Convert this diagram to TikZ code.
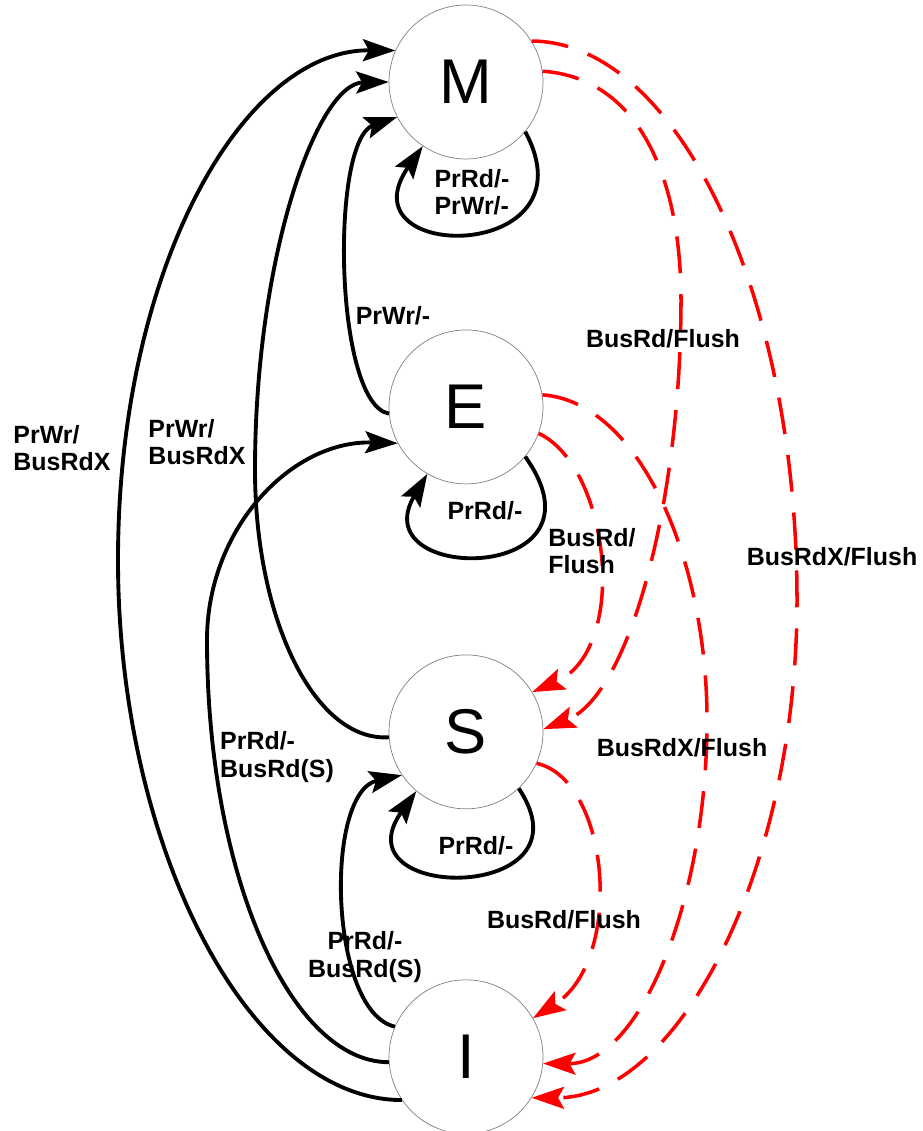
\documentclass[tikz,border=0pt]{standalone}
\usepackage{fontspec}
\setmainfont{Liberation Sans}
\usetikzlibrary{arrows.meta, positioning}

\begin{document}
\begin{tikzpicture}[x=0.02cm, y=-0.02cm, node distance=6.5cm, >={Stealth[length=6.5mm, width=4.4mm, inset=1.2mm]}]
	\tikzstyle{state} = [draw=gray, thin, circle, minimum size=3.08cm, inner sep=0pt, font=\fontsize{36}{40}\selectfont]
	\tikzstyle{lbl} = [inner sep=0pt, align=left, font=\fontsize{14.2}{15.5}\selectfont\bfseries]
	\tikzstyle{proc} = [->, black, line width=2.2pt]
	\tikzstyle{bus} = [->, red, line width=2pt, dash pattern=on 0.74cm off 0.42cm]

	\useasboundingbox (0,0) rectangle (922,1131);

	\path
		node[state] (M) at (466,82) {M}
		node[state, below of=M] (E) {E}
		node[state, below of=E] (S) {S}
		node[state, below of=S] (I) {I}
	;

	% processor side
	\draw[proc] (I.214) .. controls (248,1100) and (118,846) .. (118,560)
		.. controls (118,270) and (242,49) .. (M.156);
	\draw[proc] (S.184) .. controls (315,742) and (255,620) .. (255,470)
		.. controls (255,257) and (317,83) .. (M.180);
	\draw[proc] (E.185) .. controls +(-55,-10) and +(-67,23) .. (M.207);
	\draw[proc] (I.184) .. controls (290,1062) and (207,874) .. (207,640)
		.. controls (207,529) and (291,440) .. (E.208);
	\draw[proc] (I.157) .. controls +(-66,-15) and +(-78,17) .. (S.214);

	\draw[proc] (M.-40) .. controls +(71,132) and +(-82,118) .. (M.236);
	\draw[proc] (E.-40) .. controls +(91,128) and +(-66,111) .. (E.240);
	\draw[proc] (S.-47) .. controls +(77,115) and +(-80,112) .. (S.230);

	% bus side
	\draw[bus] (M.32) .. controls (677,42) and (797,293) .. (797,600)
		.. controls (797,871) and (678,1098) .. (I.-32);
	\draw[bus] (M.8) .. controls (640,78) and (681,180) .. (681,300)
		.. controls (681,500) and (630,695) .. (S.2);
	\draw[bus] (E.9) .. controls (640,402) and (707,560) .. (707,720)
		.. controls (707,900) and (640,1064) .. (I.-5);
	\draw[bus] (E.-20) .. controls (610,467) and (630,650) .. (S.31);
	\draw[bus] (S.-24) .. controls (610,780) and (625,960) .. (I.30);

	\node[lbl] (lMloop) at (472,192) {PrRd/-\\PrWr/-};
	\node[lbl] (lEloop) at (485,511) {PrRd/-};
	\node[lbl] (lSloop) at (476,846) {PrRd/-};
	\node[lbl] (lEM) at (393,316) {PrWr/-};
	\node[lbl] (lIM) at (62,448) {PrWr/\\BusRdX};
	\node[lbl] (lSM) at (197,442) {PrWr/\\BusRdX};
	\node[lbl] (lIE) at (277,757) {PrRd/-\\BusRd(S)};
	\node[lbl, align=center] (lIS) at (365,957) {PrRd/-\\BusRd(S)};
	\node[lbl] (lMS) at (663,339) {BusRd/Flush};
	\node[lbl] (lES) at (592,551) {BusRd/\\Flush};
	\node[lbl] (lMI) at (832,557) {BusRdX/Flush};
	\node[lbl] (lEI) at (682,748) {BusRdX/Flush};
	\node[lbl] (lSI) at (564,920) {BusRd/Flush};
\end{tikzpicture}
\end{document}
